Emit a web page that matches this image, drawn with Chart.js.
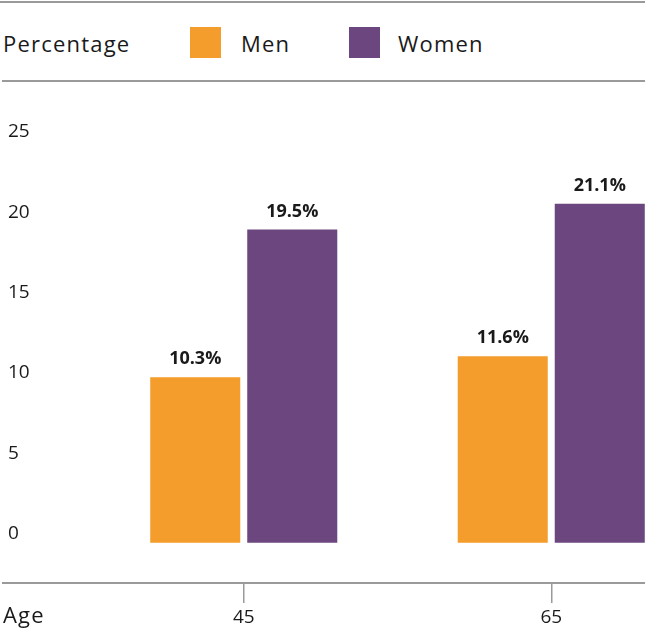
<!DOCTYPE html>
<html>
<head>
<meta charset="utf-8">
<script src="https://cdn.jsdelivr.net/npm/chart.js@4"></script>
<style>
  html, body { margin: 0; padding: 0; background: #fff; overflow: hidden; }
  body { width: 645px; height: 634px; position: relative; font-family: "Open Sans", sans-serif; color: #1a1a1a; }
  .rule { position: absolute; height: 2px; background: #9a9a9a; }
  .head { position: absolute; top: 28px; font-size: 22px; line-height: 30px; letter-spacing: 1.2px; }
  .box { position: absolute; top: 27px; width: 31px; height: 31px; }
  #wrap { position: absolute; left: 0; top: 0; width: 705px; height: 634px; }
</style>
</head>
<body>
<div class="rule" style="left:0; right:0; top:1px;"></div>
<div class="head" style="left:3px;">Percentage</div>
<div id="legend"></div>
<div class="rule" style="left:2px; right:0; top:80px;"></div>
<div id="wrap"><canvas id="myChart" width="705" height="634"></canvas></div>

<script>
const ages = ['45', '65'];
const menPct = [10.3, 11.6];
const womenPct = [19.5, 21.1];
const yTicks = [0, 5, 10, 15, 20, 25];
const seriesNames = ['Men', 'Women'];
const seriesColors = ['#F49D2C', '#6C477F'];
const xTitle = 'Age';

const fontFamily = '"Open Sans", sans-serif';
const textColor = '#1a1a1a';
const ruleColor = '#9a9a9a';

// legend in the header strip
const legendEl = document.getElementById('legend');
const boxLeft = [190, 349];
const textLeft = [241, 398];
seriesNames.forEach((name, i) => {
  let b = document.createElement('div');
  b.className = 'box';
  b.style.left = boxLeft[i] + 'px';
  b.style.background = seriesColors[i];
  legendEl.appendChild(b);
  let t = document.createElement('div');
  t.className = 'head';
  t.style.left = textLeft[i] + 'px';
  t.textContent = name;
  legendEl.appendChild(t);
});

// bottom rule, axis title and value labels
const extras = {
  id: 'extras',
  afterDraw(chart) {
    const ctx = chart.ctx;
    const area = chart.chartArea;
    ctx.save();
    ctx.strokeStyle = ruleColor;
    ctx.lineWidth = 2;
    ctx.beginPath();
    ctx.moveTo(2, area.bottom);
    ctx.lineTo(chart.width, area.bottom);
    ctx.stroke();

    ctx.fillStyle = textColor;
    ctx.font = '22px ' + fontFamily;
    ctx.letterSpacing = '1.2px';
    ctx.textAlign = 'left';
    ctx.textBaseline = 'middle';
    ctx.fillText(xTitle, 3, 617);
    ctx.letterSpacing = '0px';

    ctx.font = 'bold 18px ' + fontFamily;
    ctx.textAlign = 'center';
    chart.data.datasets.forEach((ds, di) => {
      chart.getDatasetMeta(di).data.forEach((bar, i) => {
        ctx.fillText(ds.data[i].toFixed(1) + '%', bar.x, bar.y - 18);
      });
    });
    ctx.restore();
  }
};

const config = {
  type: 'bar',
  data: {
    labels: ages,
    datasets: [
      {
        label: seriesNames[0],
        data: menPct,
        backgroundColor: seriesColors[0],
        barPercentage: 0.928,
        categoryPercentage: 0.631
      }, {
        label: seriesNames[1],
        data: womenPct,
        backgroundColor: seriesColors[1],
        barPercentage: 0.928,
        categoryPercentage: 0.631
      }
    ]
  },
  options: {
    responsive: false,
    animation: false,
    layout: { padding: { left: 8, top: 141, right: 0, bottom: 0 } },
    plugins: {
      legend: { display: false },
      tooltip: { enabled: false }
    },
    scales: {
      y: {
        min: -2.5,
        max: 25,
        afterBuildTicks: (s) => { s.ticks = yTicks.map(v => ({ value: v })); },
        afterFit: (s) => { s.width = 82; },
        grid: { display: false },
        border: { display: false },
        ticks: {
          crossAlign: 'far',
          labelOffset: -9,
          padding: 0,
          color: textColor,
          font: { family: fontFamily, size: 19 }
        }
      },
      x: {
        afterFit: (s) => { s.height = 51; },
        border: { display: false },
        grid: {
          display: true,
          drawOnChartArea: false,
          drawTicks: true,
          tickLength: 20,
          offset: false,
          color: ruleColor,
          lineWidth: 1.5
        },
        ticks: {
          padding: 3,
          color: textColor,
          font: { family: fontFamily, size: 19 }
        }
      }
    }
  },
  plugins: [extras]
};

new Chart(document.getElementById('myChart'), config);
</script>
</body>
</html>
